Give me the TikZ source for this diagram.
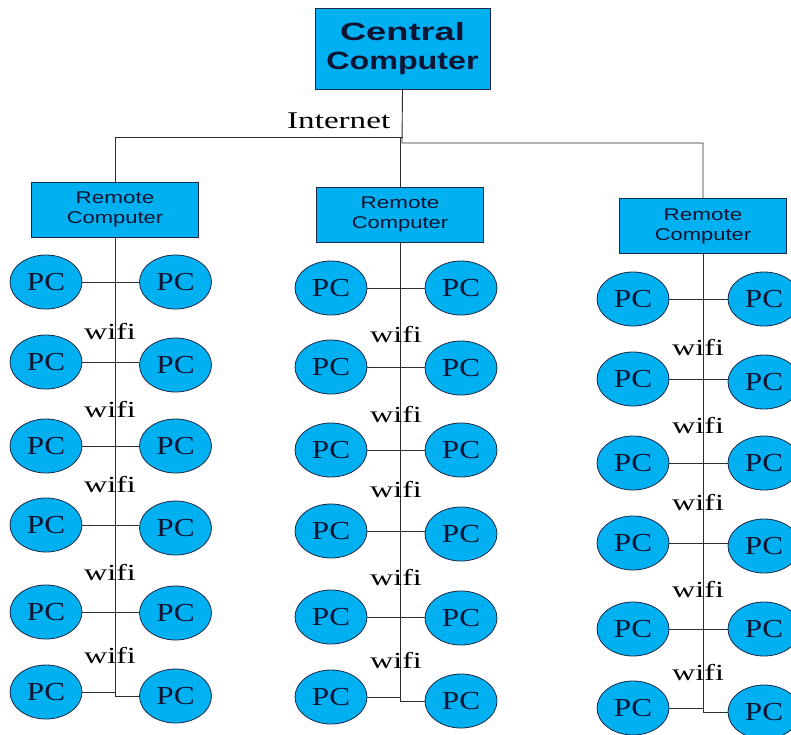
\documentclass[tikz,border=0pt]{standalone}
\usepackage{fontspec}
\setmainfont{Liberation Serif}
\newfontfamily\sansf{Liberation Sans}
\usetikzlibrary{shapes.geometric}
\definecolor{boxblue}{RGB}{0,176,240}
\definecolor{edgecol}{RGB}{30,40,70}
\definecolor{txtcol}{RGB}{15,20,50}
\definecolor{wirecol}{RGB}{45,45,45}
\newcommand\hs[2]{\scalebox{#1}[1]{#2}}
\begin{document}
\begin{tikzpicture}[x=1pt,y=-1pt,
  pcnode/.style={ellipse, draw=edgecol, line width=0.8pt, fill=boxblue,
    minimum width=72pt, minimum height=54pt, inner sep=0pt, text=txtcol,
    font=\fontsize{26}{26}\selectfont},
  remotebox/.style={rectangle, draw=edgecol, line width=0.8pt, fill=boxblue,
    minimum width=167pt, minimum height=55pt, inner sep=0pt, align=center,
    text=txtcol, font=\sansf\fontsize{17}{20}\selectfont},
  centralbox/.style={rectangle, draw=edgecol, line width=0.8pt, fill=boxblue,
    minimum width=175pt, minimum height=81pt, inner sep=0pt, align=center,
    text=txtcol, font=\sansf\bfseries\fontsize{25}{29}\selectfont},
  wireline/.style={draw=wirecol, line width=0.9pt},
  wifilabel/.style={anchor=base, inner sep=0pt, text=black,
    font=\fontsize{23}{23}\selectfont},
]
\useasboundingbox (0,0) rectangle (791,734);
\fill[white] (0,0) rectangle (791,734);
\clip (0,0) rectangle (791,734);

% central and remote computers
\node[centralbox] (C) at (402.5,48.5) {\hs{1.45}{Central}\\\hs{1.29}{Computer}};
\node[remotebox] (RA) at (115,209.5) {\hs{1.32}{Remote}\\\hs{1.29}{Computer}};
\node[remotebox] (RB) at (400,214.5) {\hs{1.32}{Remote}\\\hs{1.29}{Computer}};
\node[remotebox] (RC) at (703,226) {\hs{1.32}{Remote}\\\hs{1.29}{Computer}};

\node[anchor=base west, inner sep=0pt, font=\fontsize{24}{24}\selectfont] (inet) at (287,128) {\hs{1.38}{Internet}};

\coordinate (jl) at (115,137);
\coordinate (jm) at (400,137);
\coordinate (jc) at (402,143);
\coordinate (jr) at (703,143);
\draw[wireline] (C.south) -- (jc) -- (jr) -- (RC.north);
\draw[wireline] (C.south |- jl) -- (jl) -- (RA.north);
\draw[wireline] (jm) -- (RB.north);

% column A
\foreach \i/\ly/\ry in {1/282/282,2/362/365,3/446/446,4/525/528,5/612/613,6/692/696}{
  \node[pcnode] (AL\i) at (46,\ly) {\hs{1.2}{PC}};
  \node[pcnode] (AR\i) at (175.5,\ry) {\hs{1.2}{PC}};
}
\foreach \i in {1,...,5}{ \draw[wireline] (AL\i.east) -- (AL\i.east -| AR\i.west); }
\draw[wireline] (RA.south) -- (RA.south |- AR6.west) -- (AR6.west);
\draw[wireline] (AL6.east) -- (AL6.east -| RA.south);
\foreach \i/\b in {1/339,2/417,3/492,4/580,5/663}{
  \node[wifilabel] (AW\i) at (110,\b) {\hs{1.4}{wifi}};
}

% column B
\foreach \i/\ly/\ry in {1/288/288,2/367/368,3/450/450,4/531/534,5/617/618,6/697/701}{
  \node[pcnode] (BL\i) at (331,\ly) {\hs{1.2}{PC}};
  \node[pcnode] (BR\i) at (461,\ry) {\hs{1.2}{PC}};
}
\foreach \i in {1,...,5}{ \draw[wireline] (BL\i.east) -- (BL\i.east -| BR\i.west); }
\draw[wireline] (RB.south) -- (RB.south |- BR6.west) -- (BR6.west);
\draw[wireline] (BL6.east) -- (BL6.east -| RB.south);
\foreach \i/\b in {1/342,2/422,3/497,4/585,5/668}{
  \node[wifilabel] (BW\i) at (396,\b) {\hs{1.4}{wifi}};
}

% column C
\foreach \i/\ly/\ry in {1/299/299,2/379/382,3/463/463,4/543/546,5/629/629,6/708/712}{
  \node[pcnode] (CL\i) at (633,\ly) {\hs{1.2}{PC}};
  \node[pcnode] (CR\i) at (764,\ry) {\hs{1.2}{PC}};
}
\foreach \i in {1,...,5}{ \draw[wireline] (CL\i.east) -- (CL\i.east -| CR\i.west); }
\draw[wireline] (RC.south) -- (RC.south |- CR6.west) -- (CR6.west);
\draw[wireline] (CL6.east) -- (CL6.east -| RC.south);
\foreach \i/\b in {1/355,2/433,3/510,4/597,5/680}{
  \node[wifilabel] (CW\i) at (698,\b) {\hs{1.4}{wifi}};
}
\end{tikzpicture}
\end{document}
